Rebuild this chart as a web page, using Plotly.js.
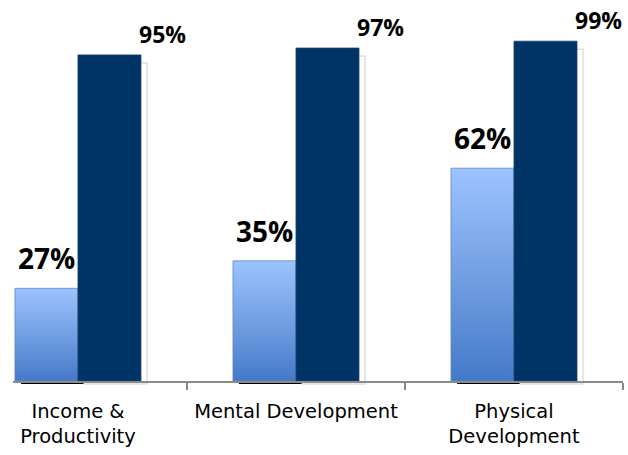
<!DOCTYPE html>
<html>
<head>
<meta charset="utf-8">
<script src="https://cdn.plot.ly/plotly-3.0.1.min.js"></script>
<style>
  html, body { margin: 0; padding: 0; background: #fff; }
  #chart { width: 628px; height: 455px; }
</style>
</head>
<body>
<div id="chart"></div>
<script>
// ---- data ----
const categories = ["Income &<br>Productivity", "Mental Development", "Physical<br>Development"];
const seriesLight = [27, 35, 62];
const seriesDark = [95, 97, 99];
const labelsLight = seriesLight.map(v => v + "%");
const labelsDark = seriesDark.map(v => v + "%");

const traces = [
  {
    type: "bar", x: categories, y: seriesLight, name: "A",
    marker: { color: "#7FA8E8", line: { color: "#5F86C0", width: 0.8 } },
    cliponaxis: false, hoverinfo: "skip"
  },
  {
    type: "bar", x: categories, y: seriesDark, name: "B",
    marker: { color: "#003366", line: { color: "#1E416F", width: 0.8 } },
    cliponaxis: false, hoverinfo: "skip"
  }
];

const annotations = [];
categories.forEach((c, i) => {
  annotations.push({
    x: i, xref: "x", y: seriesLight[i], yref: "y",
    text: labelsLight[i], showarrow: false,
    xanchor: "center", yanchor: "bottom", xshift: -31, yshift: 9,
    font: { family: "Open Sans", size: 28, color: "#000", weight: 700 }
  });
  annotations.push({
    x: i, xref: "x", y: seriesDark[i], yref: "y",
    text: labelsDark[i], showarrow: false,
    xanchor: "center", yanchor: "bottom", xshift: 85, yshift: 3,
    font: { family: "Open Sans", size: 23, color: "#000", weight: 700 }
  });
});

const layout = {
  width: 628, height: 455,
  margin: { l: 13, r: 5, t: 0, b: 74 },
  paper_bgcolor: "#fff", plot_bgcolor: "rgba(0,0,0,0)",
  showlegend: false,
  barmode: "group", bargap: 0.422, bargroupgap: 0,
  xaxis: {
    type: "category", range: [-0.298, 2.5],
    showline: true, linecolor: "#8a8a8a", linewidth: 1.5,
    ticks: "outside", tickson: "boundaries", ticklen: 7, tickcolor: "#8a8a8a", tickwidth: 1.5,
    ticklabelstandoff: 12,
    showgrid: false, zeroline: false,
    tickfont: { family: "DejaVu Sans", size: 19.5, color: "#000" }
  },
  yaxis: {
    range: [0, 111], visible: false, showgrid: false, zeroline: false
  },
  annotations: annotations
};

Plotly.newPlot("chart", traces, layout, { staticPlot: true, displayModeBar: false }).then(gd => {
  const svgNS = "http://www.w3.org/2000/svg";
  const svg = gd.querySelector("svg.main-svg");
  let defs = svg.querySelector("defs");
  if (!defs) { defs = document.createElementNS(svgNS, "defs"); svg.insertBefore(defs, svg.firstChild); }
  const grad = document.createElementNS(svgNS, "linearGradient");
  grad.setAttribute("id", "lightGrad");
  grad.setAttribute("x1", "0"); grad.setAttribute("y1", "0");
  grad.setAttribute("x2", "0"); grad.setAttribute("y2", "1");
  [["0", "#9CC3FF"], ["0.55", "#6E9CE0"], ["1", "#4479C9"]].forEach(([o, c]) => {
    const s = document.createElementNS(svgNS, "stop");
    s.setAttribute("offset", o); s.setAttribute("stop-color", c);
    grad.appendChild(s);
  });
  defs.appendChild(grad);

  const barTraces = gd.querySelectorAll(".barlayer .trace.bars");
  const layer = barTraces[0].parentNode;
  const shadowG = document.createElementNS(svgNS, "g");
  layer.insertBefore(shadowG, layer.firstChild);

  // light bars: gradient + dark offset shadow
  barTraces[0].querySelectorAll("path").forEach(p => {
    p.style.fill = "url(#lightGrad)";
    const bb = p.getBBox();
    const r = document.createElementNS(svgNS, "rect");
    r.setAttribute("x", bb.x + 6); r.setAttribute("y", bb.y + 3);
    r.setAttribute("width", bb.width); r.setAttribute("height", bb.height);
    r.setAttribute("fill", "#000");
    shadowG.appendChild(r);
  });
  // dark bars: light outline shadow
  barTraces[1].querySelectorAll("path").forEach(p => {
    const bb = p.getBBox();
    const r = document.createElementNS(svgNS, "rect");
    r.setAttribute("x", bb.x + 6); r.setAttribute("y", bb.y + 8);
    r.setAttribute("width", bb.width); r.setAttribute("height", bb.height - 5);
    r.setAttribute("fill", "#fff"); r.setAttribute("stroke", "#cfcfcf"); r.setAttribute("stroke-width", "1");
    shadowG.appendChild(r);
  });
});
</script>
</body>
</html>
